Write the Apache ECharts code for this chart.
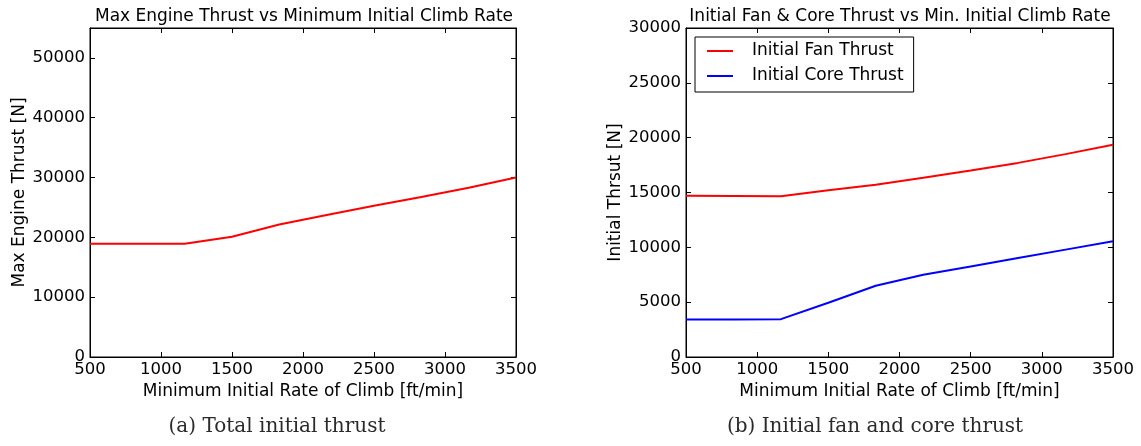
<!DOCTYPE html>
<html>
<head>
<meta charset="utf-8">
<script src="https://cdn.jsdelivr.net/npm/echarts@6/dist/echarts.min.js"></script>
<style>
html,body{margin:0;padding:0;background:#fff;}
#chart{width:1141px;height:446px;}
</style>
</head>
<body>
<div id="chart"></div>
<script>
// ---- data ----
const climbRate = [500, 833, 1167, 1500, 1833, 2167, 2500, 2833, 3167, 3500];
const maxThrust = [18950, 18950, 18950, 20100, 22150, 23750, 25300, 26750, 28300, 30000];
const fanThrust = [14700, 14680, 14650, 15200, 15700, 16350, 17000, 17700, 18500, 19350];
const coreThrust = [3420, 3430, 3450, 4950, 6500, 7500, 8260, 9020, 9790, 10550];
const xTicks = [500, 1000, 1500, 2000, 2500, 3000, 3500];
const leftYTicks = [0, 10000, 20000, 30000, 40000, 50000];
const rightYTicks = [0, 5000, 10000, 15000, 20000, 25000, 30000];
const titles = ['Max Engine Thrust vs Minimum Initial Climb Rate', 'Initial Fan & Core Thrust vs Min. Initial Climb Rate'];
const captions = ['(a) Total initial thrust', '(b) Initial fan and core thrust'];
const xName = 'Minimum Initial Rate of Climb [ft/min]';
const yNames = ['Max Engine Thrust [N]', 'Initial Thrsut [N]'];
const seriesNames = ['Initial Fan Thrust', 'Initial Core Thrust'];

const pairs = (xs, ys) => xs.map((x, i) => [x, ys[i]]);
const FONT = 'DejaVu Sans';
const tick = {show: true, inside: true, length: 5, lineStyle: {color: '#000', width: 1}};
const line = {show: true, onZero: false, lineStyle: {color: '#000', width: 1}};

function xAxes(gi) {
  const base = {type: 'value', gridIndex: gi, min: xTicks[0], max: xTicks[xTicks.length - 1],
    interval: xTicks[1] - xTicks[0], splitLine: {show: false}, axisLine: line, axisTick: tick};
  return [
    Object.assign({}, base, {position: 'bottom', name: xName, nameLocation: 'middle', nameGap: 23,
      nameTextStyle: {fontFamily: FONT, fontSize: 17, color: '#000'},
      axisLabel: {margin: 4, fontFamily: FONT, fontSize: 16.5, color: '#000', formatter: v => String(v)}}),
    Object.assign({}, base, {position: 'top', axisLabel: {show: false}})
  ];
}
function yAxes(gi, ticks, max, name) {
  const base = {type: 'value', gridIndex: gi, min: 0, max: max, interval: ticks[1] - ticks[0],
    splitLine: {show: false}, axisLine: line, axisTick: tick};
  return [
    Object.assign({}, base, {position: 'left', name: name, nameLocation: 'middle', nameGap: 62,
      nameTextStyle: {fontFamily: FONT, fontSize: 17, color: '#000'},
      axisLabel: {margin: 5, fontFamily: FONT, fontSize: 16.5, color: '#000',
        formatter: v => ticks.indexOf(v) >= 0 ? String(v) : ''}}),
    Object.assign({}, base, {position: 'right', axisLabel: {show: false}})
  ];
}

const option = {
  backgroundColor: '#fff',
  animation: false,
  title: [
    {text: titles[0], left: 304, top: 8, textAlign: 'center', padding: 0,
      textStyle: {fontFamily: FONT, fontSize: 17, fontWeight: 'normal', color: '#000'}},
    {text: titles[1], left: 900, top: 8, textAlign: 'center', padding: 0,
      textStyle: {fontFamily: FONT, fontSize: 17, fontWeight: 'normal', color: '#000'}},
    {text: captions[0], left: 277, top: 417, textAlign: 'center', padding: 0,
      textStyle: {fontFamily: 'DejaVu Serif', fontSize: 20, fontWeight: 'normal', color: '#2a2a2a'}},
    {text: captions[1], left: 875, top: 417, textAlign: 'center', padding: 0,
      textStyle: {fontFamily: 'DejaVu Serif', fontSize: 20, fontWeight: 'normal', color: '#2a2a2a'}}
  ],
  legend: {
    data: seriesNames, left: 695, top: 37, orient: 'vertical',
    padding: [4, 10, 6, 12], itemGap: 5, itemWidth: 26, itemHeight: 2, icon: 'rect',
    borderColor: '#000', borderWidth: 1, borderRadius: 0,
    textStyle: {fontFamily: FONT, fontSize: 17, color: '#000', padding: [0, 0, 0, 14], lineHeight: 20}
  },
  grid: [
    {left: 90, top: 28, width: 426, height: 329, show: true, borderColor: '#000', borderWidth: 1},
    {left: 686, top: 28, width: 427, height: 329, show: true, borderColor: '#000', borderWidth: 1}
  ],
  xAxis: [...xAxes(0), ...xAxes(1)],
  yAxis: [...yAxes(0, leftYTicks, 55000, yNames[0]), ...yAxes(1, rightYTicks, 30000, yNames[1])],
  series: [
    {type: 'line', name: 'Max Engine Thrust', xAxisIndex: 0, yAxisIndex: 0, data: pairs(climbRate, maxThrust),
      symbol: 'none', lineStyle: {color: '#ff0000', width: 2}, itemStyle: {color: '#ff0000'}},
    {type: 'line', name: seriesNames[0], xAxisIndex: 2, yAxisIndex: 2, data: pairs(climbRate, fanThrust),
      symbol: 'none', lineStyle: {color: '#ff0000', width: 2}, itemStyle: {color: '#ff0000'}},
    {type: 'line', name: seriesNames[1], xAxisIndex: 2, yAxisIndex: 2, data: pairs(climbRate, coreThrust),
      symbol: 'none', lineStyle: {color: '#0000ff', width: 2}, itemStyle: {color: '#0000ff'}}
  ]
};
const chart = echarts.init(document.getElementById('chart'), null, {renderer: 'canvas'});
chart.setOption(option);
</script>
</body>
</html>
